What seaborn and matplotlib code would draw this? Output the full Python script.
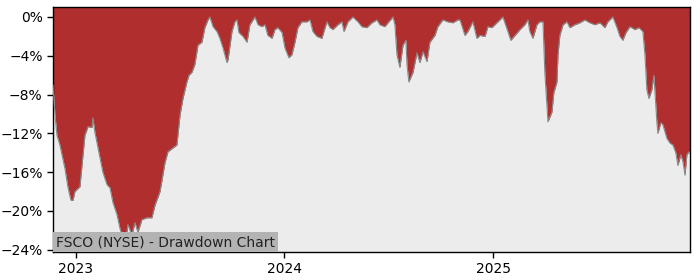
import numpy as np
import pandas as pd
import matplotlib
matplotlib.use("Agg")
import matplotlib.pyplot as plt
from matplotlib.ticker import FuncFormatter
import seaborn as sns

# Decimal years
years = [2022.890, 2022.899, 2022.909, 2022.923, 2022.947, 2022.962, 2022.976, 2022.986, 2022.995,
         2023.019, 2023.029, 2023.043, 2023.058, 2023.077, 2023.081, 2023.091, 2023.115, 2023.129,
         2023.149, 2023.163, 2023.177, 2023.197, 2023.211, 2023.225, 2023.235, 2023.249, 2023.268,
         2023.283, 2023.297, 2023.316, 2023.340, 2023.364, 2023.379, 2023.403, 2023.427, 2023.441,
         2023.465, 2023.484, 2023.499, 2023.513, 2023.532, 2023.542, 2023.556, 2023.570, 2023.585,
         2023.604, 2023.618, 2023.633, 2023.642, 2023.657, 2023.676, 2023.690, 2023.705, 2023.724,
         2023.729, 2023.748, 2023.762, 2023.772, 2023.781, 2023.801, 2023.820, 2023.834, 2023.858,
         2023.873, 2023.892, 2023.906, 2023.920, 2023.940, 2023.954, 2023.968, 2023.988, 2024.002,
         2024.021, 2024.035, 2024.050, 2024.064, 2024.083, 2024.107, 2024.122, 2024.136, 2024.155,
         2024.179, 2024.203, 2024.218, 2024.232, 2024.256, 2024.275, 2024.285, 2024.304, 2024.328,
         2024.352, 2024.371, 2024.395, 2024.419, 2024.443, 2024.457, 2024.481, 2024.496, 2024.520,
         2024.529, 2024.539, 2024.553, 2024.568, 2024.582, 2024.587, 2024.596, 2024.616, 2024.635,
         2024.649, 2024.664, 2024.683, 2024.697, 2024.721, 2024.735, 2024.759, 2024.783, 2024.807,
         2024.831, 2024.841, 2024.865, 2024.879, 2024.903, 2024.922, 2024.937, 2024.961, 2024.975,
         2024.994, 2025.018, 2025.047, 2025.071, 2025.085, 2025.105, 2025.129, 2025.152, 2025.167,
         2025.176, 2025.191, 2025.210, 2025.224, 2025.239, 2025.248, 2025.258, 2025.263, 2025.282,
         2025.291, 2025.306, 2025.311, 2025.320, 2025.335, 2025.354, 2025.368, 2025.392, 2025.416,
         2025.440, 2025.464, 2025.488, 2025.512, 2025.536, 2025.550, 2025.574, 2025.594, 2025.608,
         2025.622, 2025.637, 2025.656, 2025.680, 2025.699, 2025.718, 2025.728, 2025.737, 2025.747,
         2025.761, 2025.771, 2025.785, 2025.790, 2025.804, 2025.814, 2025.833, 2025.848, 2025.862,
         2025.876, 2025.886, 2025.900, 2025.910, 2025.920, 2025.929, 2025.939, 2025.944]

# Drawdown in percent
drawdown = [-7.0, -10.0, -12.2, -13.2, -15.6, -17.6, -18.9, -18.9, -18.0,
            -17.5, -15.3, -12.2, -11.3, -11.4, -10.4, -11.9, -14.5, -16.0,
            -17.3, -17.6, -19.1, -20.4, -21.8, -22.8, -23.8, -21.4, -22.5,
            -21.2, -22.2, -20.9, -20.7, -20.7, -19.4, -18.0, -15.0, -13.9,
            -13.5, -13.2, -10.1, -8.4, -6.7, -6.0, -5.7, -4.9, -2.9,
            -2.6, -1.1, -0.3, 0.0, -1.0, -1.5, -2.2, -3.2, -4.7,
            -4.4, -1.5, -0.5, -0.3, -1.6, -2.0, -2.6, -0.8, 0.0,
            -0.8, -1.0, -0.8, -1.9, -2.2, -1.3, -1.1, -1.6, -3.2,
            -4.2, -3.9, -2.6, -1.1, -0.5, -0.5, -0.3, -1.5, -2.0,
            -2.2, -0.5, -1.1, -1.3, -0.8, -0.5, -1.5, -0.5, 0.0,
            -0.5, -1.0, -1.1, -0.6, -0.3, -0.8, -1.0, -0.6, 0.0,
            -0.8, -3.9, -5.2, -2.9, -2.4, -4.9, -6.7, -5.7, -3.7,
            -4.7, -3.6, -4.6, -2.6, -1.9, -1.0, -0.3, -0.5, -0.6,
            -0.3, -0.3, -1.9, -1.5, -0.5, -2.2, -1.9, -2.0, -1.0,
            -1.1, -0.6, 0.0, -1.5, -2.4, -1.9, -1.3, -0.8, -0.3,
            -1.5, -2.2, -0.8, -0.5, -0.5, -5.7, -9.1, -10.8, -9.8,
            -7.8, -6.7, -3.9, -1.9, -0.8, -0.5, -1.1, -0.8, -0.6,
            -0.3, -0.6, -0.8, -0.6, -1.1, -0.5, 0.0, -1.1, -2.0,
            -2.4, -1.6, -1.0, -1.3, -1.1, -1.5, -3.9, -7.5, -8.4,
            -7.5, -6.0, -10.8, -12.0, -10.9, -11.1, -12.5, -13.0, -13.2,
            -14.0, -15.3, -14.2, -14.9, -16.3, -14.2, -13.9, -14.1]

y_ticks = [0, -4, -8, -12, -16, -20, -24]
x_tick_labels = ["2023", "2024", "2025"]
title_text = "FSCO (NYSE) - Drawdown Chart"

yrs = np.array(years)
base = pd.Timestamp("2023-01-01")
dates = base + pd.to_timedelta((yrs - 2023.0) * 365.25, unit="D")
df = pd.DataFrame({"date": dates, "dd": drawdown})

sns.set_style("white")
plt.rcParams['font.family'] = ['DejaVu Sans']

fig = plt.figure(figsize=(7, 2.8), dpi=100)
ax = fig.add_axes([53/700, 1 - 252/280, (690 - 53)/700, (252 - 7)/280])
ax.set_facecolor("#ececec")

y_top, y_bot = 1.03, -24.23
ax.fill_between(df["date"], df["dd"], y_top, color="#b02e2e", linewidth=0, zorder=2)
sns.lineplot(data=df, x="date", y="dd", ax=ax, color="#8a8a8a", linewidth=0.8, zorder=3)

ax.set_ylim(y_bot, y_top)
ax.set_xlim(df["date"].iloc[0], df["date"].iloc[-1])
ax.set_yticks(y_ticks)
ax.yaxis.set_major_formatter(FuncFormatter(lambda v, p: f"{int(round(v))}%".replace("-", "\u2212")))
ax.set_xticks([pd.Timestamp(f"{t}-01-01") for t in x_tick_labels])
ax.set_xticklabels(x_tick_labels)
ax.set_xlabel("")
ax.set_ylabel("")
ax.tick_params(axis="both", which="both", direction="out", length=4, width=1,
               labelsize=10, colors="black", left=True, bottom=True)
for s in ax.spines.values():
    s.set_visible(True)
    s.set_color("black")
    s.set_linewidth(1)

ax.text(0.005, 0.012, title_text, transform=ax.transAxes, fontsize=10, color="#222222",
        ha="left", va="bottom", zorder=5,
        bbox=dict(boxstyle="square,pad=0.2", facecolor="#b3b3b3", edgecolor="none"))

fig.savefig("out.png", dpi=100)
